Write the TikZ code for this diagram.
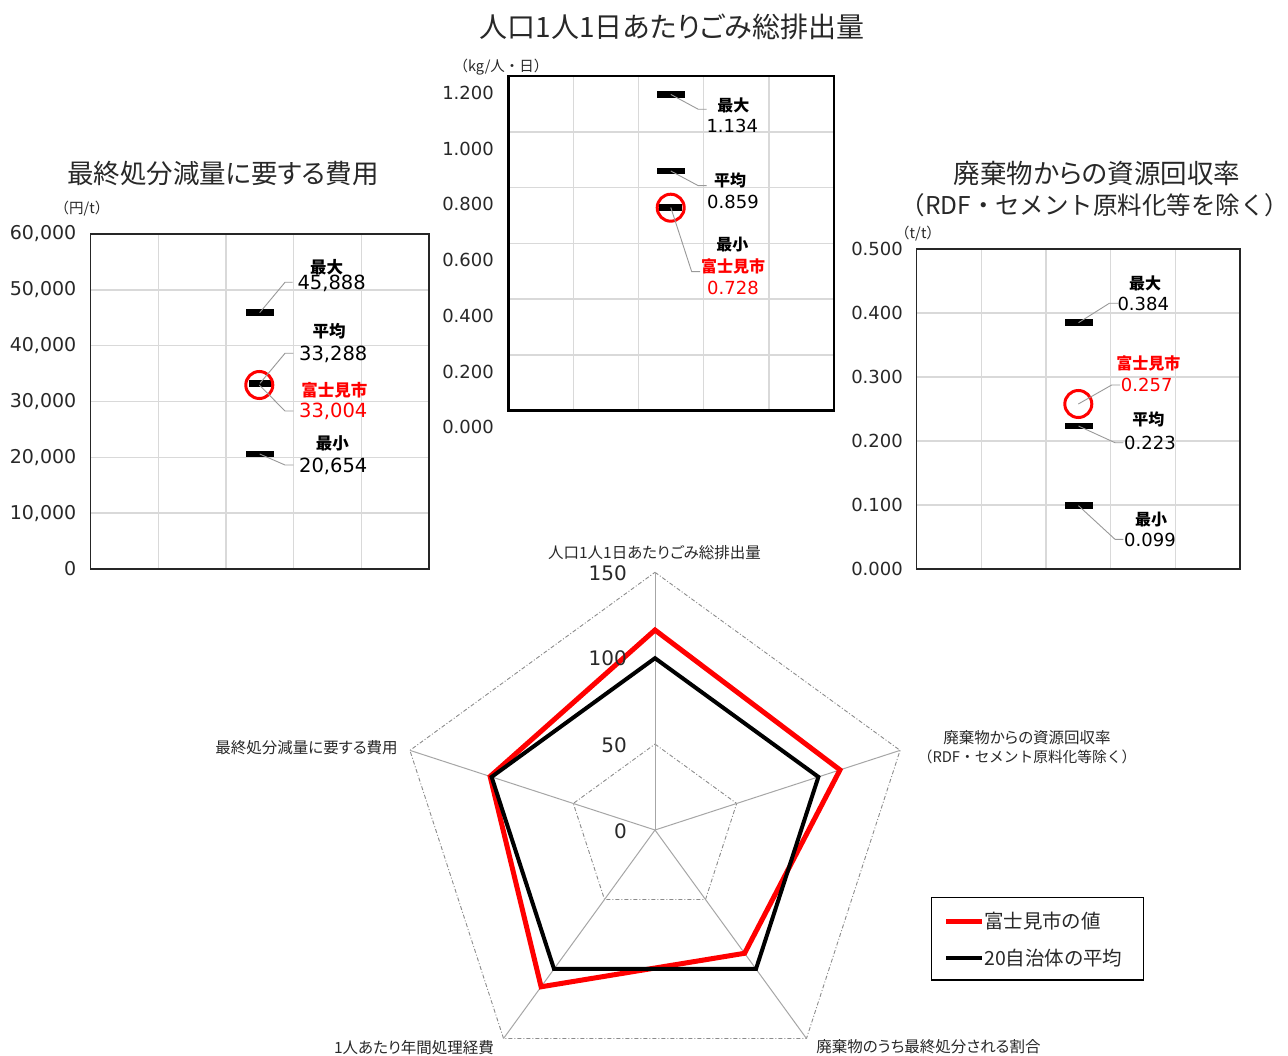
\documentclass[tikz,border=0pt]{standalone}
\usepackage{fontspec}
\setmainfont{Noto Sans CJK JP}[RawFeature=+palt]
\newfontfamily\jpn{Noto Sans CJK JP}
\newfontfamily\numf{DejaVu Sans}
\definecolor{gridc}{RGB}{217,217,217}
\definecolor{txtc}{RGB}{40,40,40}
\tikzset{
  ttl/.style={font=\fontsize{26.5}{30}\selectfont, text=txtc, inner sep=0},
  tick/.style={font=\numf\fontsize{19}{20}\selectfont, text=txtc, anchor=east, inner sep=0},
  unit/.style={font=\jpn\fontsize{14.5}{17}\selectfont, text=txtc, inner sep=0},
  lab/.style={font=\bfseries\fontsize{16.5}{18}\selectfont, text=black, inner sep=0},
  val/.style={font=\numf\fontsize{19.5}{20}\selectfont, text=black, inner sep=0},
  gridl/.style={draw=gridc, line width=1.5},
  frame/.style={draw=black!85, line width=1.5},
  bar/.style={fill=black, draw=none, minimum width=28, minimum height=6.5, inner sep=0, rectangle},
  leader/.style={draw=black!40, line width=0.9},
  fcirc/.style={circle, draw=red, line width=3, minimum size=27, inner sep=0},
  rgrid/.style={draw=black!45, line width=0.9, dash pattern=on 4pt off 2pt on 1pt off 2pt},
  spoke/.style={draw=black!35, line width=1},
  axl/.style={font=\fontsize{15.5}{19}\selectfont, text=txtc, inner sep=0, align=center},
  rnum/.style={font=\numf\fontsize{20}{22}\selectfont, text=txtc, anchor=east, inner sep=0},
  legt/.style={font=\fontsize{19.5}{22}\selectfont, text=txtc, anchor=west, inner sep=0},
}
\begin{document}
\begin{tikzpicture}[x=1pt,y=-1pt]
\fill[white] (0,0) rectangle (1288,1056);
\useasboundingbox (0,0) rectangle (1288,1056);

% ================= center chart =================
\node[ttl, font=\fontsize{28}{32}\selectfont] (ctitle) at (672,27) {人口1人1日あたりごみ総排出量};
\node[unit] (cunit) at (501,67) {（kg/人・日）};
\foreach \k in {1,...,4} \draw[gridl] ({508.3+65.14*\k},76) -- ({508.3+65.14*\k},410.7);
\foreach \k in {1,...,5} \draw[gridl] (508.3,{76+55.78*\k}) -- (834,{76+55.78*\k});
\draw[frame, draw=black, line width=2.5] (508.3,76) rectangle (834,410.7);
\foreach \v [count=\k from 0] in {1.200,1.000,0.800,0.600,0.400,0.200,0.000}
  \node[tick, font=\numf\fontsize{18}{20}\selectfont] (ct\k) at (494,{92.7+55.78*\k}) {\v};

\node[bar] (cmax) at (670.8,94.4) {};
\node[bar] (cavg) at (670.8,171) {};
\node[bar, minimum width=23] (cfuj) at (670.8,207.5) {};
\node[fcirc] (cfc) at (670.7,207.7) {};
\coordinate (cmaxe) at (706.7,109.3);
\coordinate (cavge) at (706.7,185.7);
\coordinate (cfuje) at (700,271.7);
\draw[leader] (cmax.center) -- (698.3,109.3) -- (cmaxe);
\draw[leader] (cavg.center) -- (698.3,185.7) -- (cavge);
\draw[leader] (cfuj.center) -- (691.7,271.7) -- (cfuje);
\node[lab, font=\bfseries\fontsize{16}{18}\selectfont] (cmaxl) at (733.3,105) {最大};
\node[val, font=\numf\fontsize{18}{20}\selectfont] (cmaxv) at (732.3,126) {1.134};
\node[lab, font=\bfseries\fontsize{16}{18}\selectfont] (cavgl) at (730,180) {平均};
\node[val, font=\numf\fontsize{18}{20}\selectfont] (cavgv) at (733,202.3) {0.859};
\node[lab, font=\bfseries\fontsize{16}{18}\selectfont] (cminl) at (732.3,245) {最小};
\node[lab, font=\bfseries\fontsize{16}{18}\selectfont, text=red] (cfujl) at (733,266.7) {富士見市};
\node[val, font=\numf\fontsize{18}{20}\selectfont, text=red] (cfujv) at (733,287.7) {0.728};

% ================= left chart =================
\node[ttl] (ltitle) at (223,173) {最終処分減量に要する費用};
\node[unit] (lunit) at (82,209) {（円/t）};
\foreach \k in {1,...,4} \draw[gridl] ({90.7+67.66*\k},234) -- ({90.7+67.66*\k},569);
\foreach \k in {1,...,5} \draw[gridl] (90.7,{234+55.83*\k}) -- (429,{234+55.83*\k});
\draw[frame] (90.7,234) rectangle (429,569);
\foreach \v [count=\k from 0] in {60{,}000,50{,}000,40{,}000,30{,}000,20{,}000,10{,}000,0}
  \node[tick] (lt\k) at (76.5,{234+55.83*\k}) {\v};

\node[bar] (lmax) at (259.7,312.7) {};
\node[bar, minimum width=23] (lavg) at (260,383.3) {};
\node[fcirc] (lfc) at (259.3,385) {};
\node[bar] (lmin) at (259.7,454) {};
\coordinate (lmaxe) at (292.7,282.3);
\coordinate (lavge) at (293.3,353.3);
\coordinate (lfuje) at (293.3,411);
\coordinate (lmine) at (293.3,465);
\draw[leader] (lmax.center) -- (285,282.3) -- (lmaxe);
\draw[leader] (lavg.center) -- (285,353.3) -- (lavge);
\draw[leader] (lfc.center) -- (285,411) -- (lfuje);
\draw[leader] (lmin.center) -- (285,465) -- (lmine);
\node[lab] (lmaxl) at (326.7,267.3) {最大};
\node[val] (lmaxv) at (331.7,283.3) {45,888};
\node[lab] (lavgl) at (329,331.7) {平均};
\node[val] (lavgv) at (333.3,354) {33,288};
\node[lab, text=red] (lfujl) at (334.3,390) {富士見市};
\node[val, text=red] (lfujv) at (333.3,411.7) {33,004};
\node[lab] (lminl) at (332.3,443.3) {最小};
\node[val] (lminv) at (333.3,466) {20,654};

% ================= right chart =================
\node[ttl] (rtitle1) at (1097,173) {廃棄物からの資源回収率};
\node[ttl, font=\jpn\fontsize{24.5}{30}\selectfont] (rtitle2) at (1095,205) {（RDF・セメント原料化等を除く）};
\node[unit] (runit) at (918,234) {（t/t）};
\foreach \k in {1,...,4} \draw[gridl] ({916.7+64.66*\k},249) -- ({916.7+64.66*\k},569);
\foreach \k in {1,...,4} \draw[gridl] (916.7,{249+64*\k}) -- (1240,{249+64*\k});
\draw[frame] (916.7,249) rectangle (1240,569);
\foreach \v [count=\k from 0] in {0.500,0.400,0.300,0.200,0.100,0.000}
  \node[tick, font=\numf\fontsize{18}{20}\selectfont] (rt\k) at (903,{249+64*\k}) {\v};

\node[bar] (rmax) at (1078.5,322.7) {};
\node[bar] (ravg) at (1078.5,426) {};
\node[bar] (rmin) at (1078.5,505.7) {};
\node[fcirc] (rfc) at (1078.3,404) {};
\coordinate (rmaxe) at (1118.3,303.3);
\coordinate (rfuje) at (1120,385);
\coordinate (ravge) at (1123.3,442.7);
\coordinate (rmine) at (1123.3,539.3);
\draw[leader] (rmax.center) -- (1109.3,303.3) -- (rmaxe);
\draw[leader] (rfc.center) -- (1111.7,385) -- (rfuje);
\draw[leader] (ravg.center) -- (1115,442.7) -- (ravge);
\draw[leader] (rmin.center) -- (1115,539.3) -- (rmine);
\node[lab, font=\bfseries\fontsize{16}{18}\selectfont] (rmaxl) at (1145,283.3) {最大};
\node[val, font=\numf\fontsize{18}{20}\selectfont] (rmaxv) at (1143.3,304.3) {0.384};
\node[lab, font=\bfseries\fontsize{16}{18}\selectfont, text=red] (rfujl) at (1148.3,363.3) {富士見市};
\node[val, font=\numf\fontsize{18}{20}\selectfont, text=red] (rfujv) at (1146.7,385) {0.257};
\node[lab, font=\bfseries\fontsize{16}{18}\selectfont] (ravgl) at (1148.3,419.3) {平均};
\node[val, font=\numf\fontsize{18}{20}\selectfont] (ravgv) at (1150,443.3) {0.223};
\node[lab, font=\bfseries\fontsize{16}{18}\selectfont] (rminl) at (1151,520) {最小};
\node[val, font=\numf\fontsize{18}{20}\selectfont] (rminv) at (1150,540) {0.099};

% ================= radar chart =================
\begin{scope}[shift={(655,830)}, y=1pt]
  \coordinate (rc) at (0,0);
  \foreach \r in {85.9,171.8,257.7}
    \draw[rgrid] (90:\r) -- (18:\r) -- (-54:\r) -- (-126:\r) -- (162:\r) -- cycle;
  \foreach \a [count=\i] in {90,18,-54,-126,162} {
    \coordinate (ax\i) at (\a:257.7);
    \draw[spoke] (rc) -- (ax\i);
  }
  \coordinate (p1) at (90:{116.4*1.718});
  \coordinate (p2) at (18:{113.2*1.718});
  \coordinate (p3) at (-54:{88.7*1.718});
  \coordinate (p4) at (-126:{112.8*1.718});
  \coordinate (p5) at (162:{100.9*1.718});
  \coordinate (q1) at (90:171.8);
  \coordinate (q2) at (18:171.8);
  \coordinate (q3) at (-54:171.8);
  \coordinate (q4) at (-126:171.8);
  \coordinate (q5) at (162:171.8);
  \draw[red, line width=5] (p1) -- (p2) -- (p3) -- (p4) -- (p5) -- cycle;
  \draw[black, line width=4] (q1) -- (q2) -- (q3) -- (q4) -- (q5) -- cycle;
\end{scope}
\node[rnum] (s150) at (627,573.3) {150};
\node[rnum] (s100) at (627,658.7) {100};
\node[rnum] (s50) at (627,745.7) {50};
\node[rnum] (s0) at (627,831.7) {0};

\node[axl] (a1) at (654.5,553) {人口1人1日あたりごみ総排出量};
\node[axl] (a2) at (1027,747) {廃棄物からの資源回収率\\{\jpn\fontsize{14.7}{19}\selectfont （RDF・セメント原料化等除く）}};
\node[axl] (a3) at (928.5,1047) {廃棄物のうち最終処分される割合};
\node[axl] (a4) at (414,1047.5) {1人あたり年間処理経費};
\node[axl] (a5) at (306.5,748) {最終処分減量に要する費用};

% legend
\draw[black, line width=1.5] (931.7,897.7) rectangle (1143.3,980);
\coordinate (lg1a) at (946,921.3);
\coordinate (lg1b) at (981.7,921.3);
\coordinate (lg2a) at (946,958.3);
\coordinate (lg2b) at (981.7,958.3);
\draw[red, line width=5] (lg1a) -- (lg1b);
\draw[black, line width=4] (lg2a) -- (lg2b);
\node[legt] (lgt1) at (984,921.3) {富士見市の値};
\node[legt] (lgt2) at (984,958.3) {20自治体の平均};
\end{tikzpicture}
\end{document}
